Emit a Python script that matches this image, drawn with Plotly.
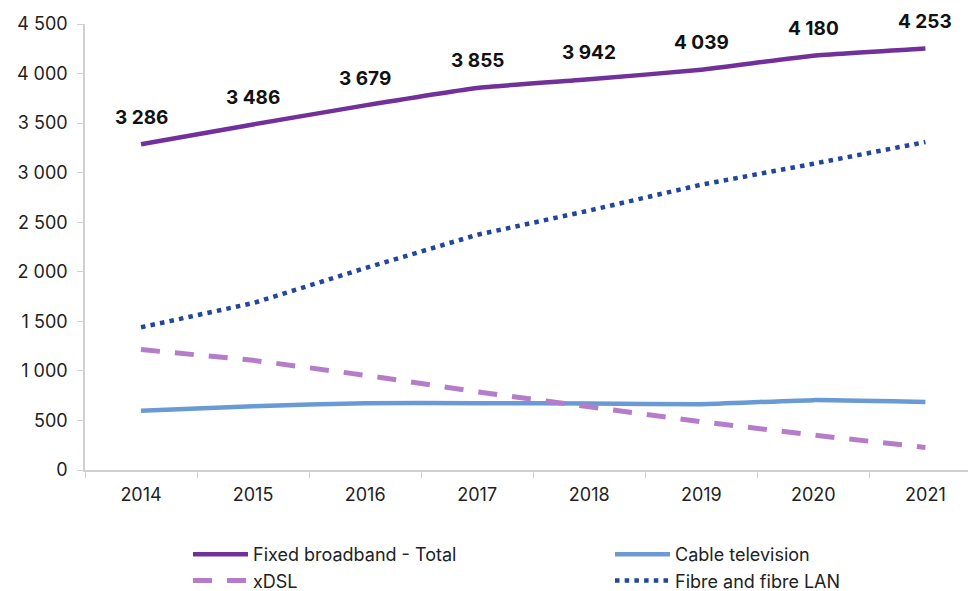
import plotly.graph_objects as go

years = ["2014", "2015", "2016", "2017", "2018", "2019", "2020", "2021"]
total = [3286, 3486, 3679, 3855, 3942, 4039, 4180, 4253]
cable = [597, 644, 674, 674, 671, 664, 705, 685]
xdsl = [1215, 1107, 956, 789, 638, 487, 352, 228]
fibre = [1440, 1684, 2037, 2373, 2618, 2879, 3090, 3309]

FONT = "Inter, Liberation Sans, Arial, sans-serif"
fig = go.Figure()

fig.add_trace(go.Scatter(
    x=years, y=total, name="Fixed broadband - Total", mode="lines",
    line=dict(color="#71309A", width=4.5, shape="spline", smoothing=0.4),
    legend="legend",
))
fig.add_trace(go.Scatter(
    x=years, y=cable, name="Cable television", mode="lines",
    line=dict(color="#6A9AD6", width=4.5, shape="spline", smoothing=0.4),
    legend="legend2",
))
fig.add_trace(go.Scatter(
    x=years, y=xdsl, name="xDSL", mode="lines",
    line=dict(color="#B57DC9", width=5, dash="19px,15px"),
    legend="legend",
))
fig.add_trace(go.Scatter(
    x=years, y=fibre, name="Fibre and fibre LAN", mode="lines",
    line=dict(color="#22479A", width=4.5, dash="4.5px,5.2px"),
    legend="legend2",
))

# value labels above the total line (x given as category index)
for i, v in enumerate(total):
    fig.add_annotation(
        x=i, y=v, xref="x", yref="y",
        text="<b>" + f"{v:,}".replace(",", " ") + "</b>", showarrow=False,
        yshift=27, font=dict(family=FONT, size=19, color="#111111"),
    )

legend_style = dict(
    orientation="v", xref="container", yref="container",
    xanchor="left", yanchor="top", tracegroupgap=0,
    font=dict(family=FONT, size=18, color="#222222"),
    itemwidth=55, bgcolor="rgba(0,0,0,0)",
)

fig.update_layout(
    width=974, height=591,
    margin=dict(l=85, r=6, t=24, b=121, autoexpand=False),
    paper_bgcolor="white", plot_bgcolor="white",
    font=dict(family=FONT, size=18, color="#222222"),
    separators=". ",
    showlegend=True,
    legend=dict(x=188 / 974, y=1 - 536 / 591, **legend_style),
    legend2=dict(x=610 / 974, y=1 - 536 / 591, **legend_style),
)
fig.update_xaxes(
    type="category", range=[-0.5, 7.38],
    showline=True, linecolor="#D0D0D0", linewidth=1.5,
    ticks="outside", tickson="boundaries", ticklen=6, tickcolor="#D0D0D0",
    ticklabelstandoff=8,
    showgrid=False, zeroline=False,
    tickfont=dict(family=FONT, size=18, color="#222222"),
)
fig.update_yaxes(
    range=[0, 4500], dtick=500, tickformat=",d",
    showline=True, linecolor="#D0D0D0", linewidth=1.5,
    ticks="outside", ticklen=6, tickcolor="#D0D0D0",
    ticklabelstandoff=6,
    showgrid=False, zeroline=False,
    tickfont=dict(family=FONT, size=18, color="#222222"),
)

fig.write_html("out.html")
